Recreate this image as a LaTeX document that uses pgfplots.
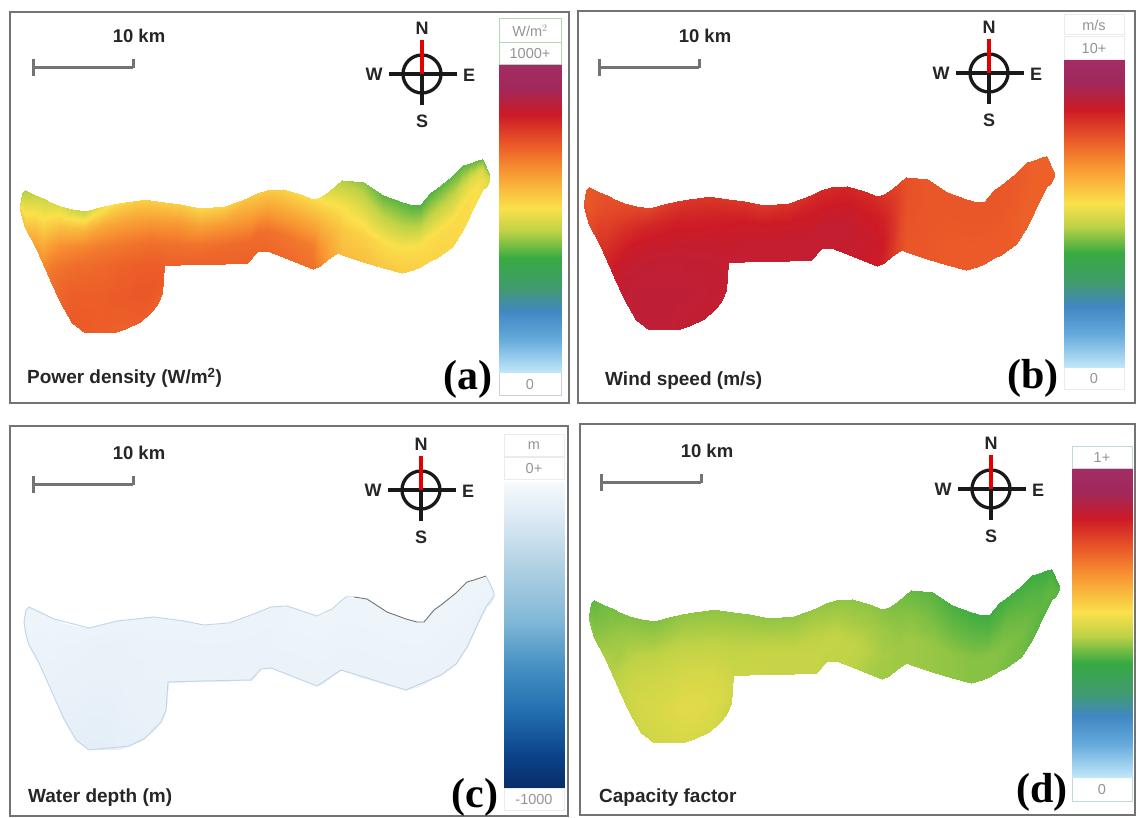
\documentclass[border=0pt]{standalone}
\usepackage{fontspec}
\setmainfont{Liberation Sans}
\newfontfamily\serifbf{Liberation Serif}
\usepackage{pgfplots}
\usepackage{pgfplotstable}
\pgfplotsset{compat=1.18}
\pgfplotsset{
 colormap={rb}{rgb255(0pt)=(195,232,250) rgb255(110pt)=(100,170,220) rgb255(200pt)=(65,135,195) rgb255(276pt)=(65,155,110) rgb255(373pt)=(55,170,65) rgb255(460pt)=(190,210,70) rgb255(535pt)=(250,225,75) rgb255(654pt)=(248,150,50) rgb255(740pt)=(235,90,40) rgb255(838pt)=(205,27,38) rgb255(925pt)=(160,40,90) rgb255(1000pt)=(163,44,100)},
 colormap={bl}{rgb255(0pt)=(8,45,105) rgb255(100pt)=(10,65,135) rgb255(250pt)=(35,110,175) rgb255(400pt)=(70,145,195) rgb255(550pt)=(130,185,215) rgb255(700pt)=(170,205,225) rgb255(900pt)=(225,236,246) rgb255(1000pt)=(246,250,253)},
 panel/.style={scale only axis,anchor=south west,y dir=reverse,clip=false,
   axis line style={draw=black!55,line width=1.8pt},ticks=none,
   point meta min=0,point meta max=1000},
 field/.style={surf,shader=interp,mesh/cols=6,mesh/rows=44,draw=none},
 cbar/.style={surf,shader=interp,mesh/cols=2,mesh/rows=2,point meta=explicit,draw=none},
}
\pgfplotstableread{
x y a b c d
20 205 450 745 955 400
20 207 500 745 955 410
20 208 540 750 955 420
20 210 580 760 950 430
20 210 580 760 950 430
20 210 580 760 950 430
22 193 450 745 955 400
22 201 500 745 955 410
22 210 540 750 955 420
22 218 580 760 950 430
22 218 580 760 950 430
22 218 580 760 950 430
25 190 450 745 955 400
25 203 500 745 955 410
25 215 540 750 955 420
25 228 590 760 950 430
25 228 590 760 950 430
25 228 590 760 950 430
35 195 470 750 955 410
35 212 530 760 955 420
35 229 590 780 950 435
35 246 640 795 950 450
35 246 640 795 950 450
35 246 640 795 950 450
43 198 480 755 955 415
43 220 540 770 955 430
43 242 610 795 950 445
43 264 670 825 945 455
43 264 670 825 945 455
43 264 670 825 945 455
50 202 490 755 955 415
50 223 560 780 955 435
50 244 635 810 950 445
50 265 690 835 945 460
50 272 700 840 940 465
50 280 700 840 940 465
60 206 500 760 955 420
60 226 585 795 950 440
60 245 660 825 945 455
60 265 700 850 940 470
60 283 720 860 935 478
60 302 725 860 930 475
72 209 480 765 955 420
72 228 590 810 950 440
72 246 670 840 945 460
72 265 710 855 940 475
72 294 735 865 930 488
72 323 740 865 925 480
85 211 470 770 955 420
85 229 600 820 945 440
85 247 680 845 940 462
85 265 715 860 935 478
85 299 735 865 925 492
85 333 740 865 915 482
100 207 510 780 955 425
100 226 620 825 945 445
100 246 690 850 940 468
100 265 720 862 935 482
100 299 735 865 925 498
100 333 735 865 915 485
113 204 540 790 955 430
113 224 630 830 945 450
113 245 695 850 940 472
113 265 725 862 935 488
113 299 740 865 930 505
113 333 730 860 925 490
125 202 555 795 955 430
125 223 640 830 945 450
125 244 700 850 945 472
125 265 730 860 940 490
125 297 740 865 935 505
125 329 730 860 925 490
140 200 565 795 955 430
140 222 645 830 950 450
140 243 705 850 945 472
140 265 735 860 945 490
140 294 745 862 940 500
140 322 735 860 930 490
150 200 565 795 955 430
150 222 650 832 950 450
150 243 710 850 950 470
150 265 735 858 945 485
150 289 745 860 945 495
150 313 735 855 935 485
157 201 565 795 955 430
157 222 650 832 950 450
157 244 710 850 950 470
157 265 735 858 945 482
157 285 740 860 945 488
157 305 730 855 945 478
162 202 565 795 955 430
162 223 650 835 950 450
162 244 710 850 950 468
162 265 735 855 945 480
162 279 740 855 945 484
162 293 730 855 945 475
164 202 565 795 955 430
164 223 650 835 950 450
164 244 710 850 950 468
164 265 730 855 945 475
164 265 730 855 945 475
164 265 730 855 945 475
180 204 565 795 955 430
180 224 650 838 950 450
180 245 710 855 950 470
180 265 730 855 945 475
180 265 730 855 945 475
180 265 730 855 945 475
200 208 550 790 955 430
200 227 640 838 950 452
200 245 705 855 950 472
200 264 730 855 950 472
200 264 730 855 950 472
200 264 730 855 950 472
225 206 560 800 955 430
225 225 650 838 950 450
225 245 715 855 950 470
225 264 730 855 950 470
225 264 730 855 950 470
225 264 730 855 950 470
247 198 580 810 955 435
247 220 650 840 950 455
247 241 715 858 950 470
247 263 730 858 950 470
247 263 730 858 950 470
247 263 730 858 950 470
257 193 570 815 955 430
257 213 640 840 950 450
257 232 710 858 950 470
257 252 725 855 950 465
257 252 725 855 950 465
257 252 725 855 950 465
267 190 570 815 955 430
267 210 640 840 950 450
267 231 710 858 950 470
267 251 725 855 950 465
267 251 725 855 950 465
267 251 725 855 950 465
283 189 560 820 955 430
283 212 630 845 955 445
283 234 700 858 950 465
283 257 720 850 950 460
283 257 720 850 950 460
283 257 720 850 950 460
300 194 550 815 955 430
300 217 625 840 955 445
300 241 695 850 950 455
300 264 715 845 950 445
300 264 715 845 950 445
300 264 715 845 950 445
313 199 545 810 955 425
313 222 620 835 955 440
313 246 690 845 950 445
313 269 710 840 950 440
313 269 710 840 950 440
313 269 710 840 950 440
320 197 530 795 955 420
320 220 600 825 955 435
320 243 650 835 950 445
320 266 680 825 950 440
320 266 680 825 950 440
320 266 680 825 950 440
328 192 500 780 955 415
328 214 570 800 955 430
328 237 620 805 950 440
328 259 640 795 950 440
328 259 640 795 950 440
328 259 640 795 950 440
337 184 470 765 955 410
337 207 540 770 955 425
337 230 590 765 950 440
337 253 610 760 950 440
337 253 610 760 950 440
337 253 610 760 950 440
342 180 450 755 955 405
342 205 530 755 955 425
342 230 575 750 950 440
342 255 595 745 950 440
342 255 595 745 950 440
342 255 595 745 950 440
363 182 430 745 955 395
363 209 500 745 955 415
363 235 560 745 950 435
363 262 590 745 950 435
363 262 590 745 950 435
363 262 590 745 950 435
383 195 400 745 955 385
383 219 470 745 955 405
383 244 545 740 950 430
383 268 575 740 950 430
383 268 575 740 950 430
383 268 575 740 950 430
402 202 395 745 955 380
402 226 460 745 955 400
402 249 540 740 950 425
402 273 570 740 950 425
402 273 570 740 950 425
402 273 570 740 950 425
413 205 390 745 955 378
413 227 460 745 955 400
413 248 540 740 950 425
413 270 565 740 950 425
413 270 565 740 950 425
413 270 565 740 950 425
420 205 390 745 955 378
420 226 460 745 955 400
420 246 540 740 950 425
420 267 560 740 950 425
420 267 560 740 950 425
420 267 560 740 950 425
430 193 390 745 955 378
430 216 465 745 955 400
430 238 540 740 950 422
430 261 555 740 950 420
430 261 555 740 950 420
430 261 555 740 950 420
437 188 395 745 955 380
437 211 470 745 955 405
437 235 545 740 950 420
437 258 555 740 950 415
437 258 555 740 950 415
437 258 555 740 950 415
452 176 400 740 955 380
452 200 480 740 955 400
452 223 545 735 950 415
452 247 550 735 950 410
452 247 550 735 950 410
452 247 550 735 950 410
463 165 400 735 955 378
463 187 490 735 955 395
463 208 545 730 950 405
463 230 545 730 950 400
463 230 545 730 950 400
463 230 545 730 950 400
470 163 405 730 955 376
470 180 500 730 955 390
470 198 545 730 950 400
470 215 540 730 950 395
470 215 540 730 950 395
470 215 540 730 950 395
478 160 405 730 955 376
478 173 500 730 955 390
478 185 530 730 950 400
478 198 530 730 950 395
478 198 530 730 950 395
478 198 530 730 950 395
482 159 405 730 955 376
482 169 490 730 955 390
482 180 520 730 950 400
482 190 520 730 950 395
482 190 520 730 950 395
482 190 520 730 950 395
486 167 420 730 955 378
486 174 480 730 955 390
486 180 510 730 950 398
486 187 510 730 950 395
486 187 510 730 950 395
486 187 510 730 950 395
490 176 440 730 955 380
490 177 470 730 955 390
490 178 490 730 950 395
490 179 500 730 950 395
490 179 500 730 950 395
490 179 500 730 950 395
}\shape
\newcommand\compass[2]{%
 \begin{scope}[shift={(axis cs:#1,#2)},x=1pt,y=-1pt]
  \draw[line width=3.3pt,black!90] (0,0) circle[radius=19];
  \draw[line width=3.3pt,black!90] (-33,0)--(35,0) (0,0)--(0,31);
  \draw[line width=3.3pt,red!90!black] (0,-34)--(0,0);
  \node[font=\fontsize{18}{18}\selectfont\bfseries,text=black!85] at (0,-46) {N};
  \node[font=\fontsize{18}{18}\selectfont\bfseries,text=black!85] at (0,47) {S};
  \node[font=\fontsize{18}{18}\selectfont\bfseries,text=black!85] at (-48,0) {W};
  \node[font=\fontsize{18}{18}\selectfont\bfseries,text=black!85] at (47,1) {E};
 \end{scope}}
\newcommand\scalebar[2]{%
 \begin{scope}[shift={(axis cs:#1,#2)},x=1pt,y=-1pt]
  \draw[line width=3pt,black!55] (0,-8)--(0,9) (0,1)--(100,1) (100,1)--(100,-8);
  \node[font=\fontsize{18.5}{19}\selectfont\bfseries,text=black!85] at (106,-31) {10 km};
 \end{scope}}
\newcommand\cbox[6]{% x1,y1,x2,y2,border,text
 \draw[#5,line width=1pt,fill=white] (axis cs:#1,#2) rectangle (axis cs:#3,#4);
 \node[text=black!42,font=\fontsize{14.5}{15}\selectfont] at (axis cs:{(#1+#3)/2},{(#2+#4)/2}) {#6};}
\newcommand\plab[3]{\node[font=\serifbf\fontsize{42}{42}\selectfont\bfseries,inner sep=0pt] at (axis cs:#1,#2) {#3};}
\newcommand\tlab[3]{\node[anchor=west,inner sep=0pt,text=black!85,font=\fontsize{19}{20}\selectfont\bfseries] at (axis cs:#1,#2) {#3};}
\begin{document}
\begin{tikzpicture}[x=1pt,y=1pt]
\path[use as bounding box] (0,0) rectangle (1136,818);
% (a)
\begin{axis}[panel,colormap name=rb,at={(10pt,415pt)},width=559pt,height=391pt,xmin=10,xmax=569,ymin=12,ymax=403]
\addplot[field,point meta=\thisrow{a}] table[x=x,y=y] {\shape};
\cbox{499}{19}{561}{43}{green!50!black!30}{W/m$^{2}$}
\cbox{499}{43}{561}{65}{green!50!black!30}{1000+}
\cbox{499}{373}{561}{396}{blue!30!gray!30}{0}
\addplot[cbar] coordinates {(499,65) [1000] (561,65) [1000] (499,373) [0] (561,373) [0]};
\compass{422}{74}\scalebar{33}{67}
\tlab{27}{378}{Power density (W/m$^{\mathbf{2}}$)}
\plab{468}{379}{(a)}
\end{axis}
% (b)
\begin{axis}[panel,colormap name=rb,at={(578pt,415pt)},width=557pt,height=392pt,xmin=14,xmax=571,ymin=14,ymax=406]
\addplot[field,point meta=\thisrow{b}] table[x=x,y=y] {\shape};
\cbox{500}{18}{560}{38}{black!8}{m/s}
\cbox{500}{40}{560}{63}{black!8}{10+}
\cbox{500}{371}{560}{393}{black!8}{0}
\addplot[cbar] coordinates {(500,63) [1000] (560,63) [1000] (500,371) [0] (560,371) [0]};
\compass{425}{76}\scalebar{35}{70}
\tlab{41}{384}{Wind speed (m/s)}
\plab{469}{381}{(b)}
\end{axis}
% (c)
\begin{axis}[panel,colormap name=bl,at={(10pt,2pt)},width=558pt,height=390pt,xmin=6,xmax=564,ymin=9,ymax=399]
\addplot[field,point meta=\thisrow{c}] table[x=x,y=y] {\shape};
\addplot[draw={rgb,255:red,195;green,215;blue,235},line width=1pt] coordinates {(25,190)(22,193)(20,205)(22,218)(25,228)(35,246)(43,264)(60,302)(72,323)(85,333)(125,329)(140,322)(157,305)(162,293)(164,265)(200,264)(247,263)(257,252)(267,251)(313,269)(337,253)(402,273)(437,258)(452,247)(463,230)(470,215)(478,198)(482,190)(490,179)(490,176)(486,167)(482,159)};
\addplot[draw=black!55,line width=.9pt] coordinates {(482,159)(470,163)(463,165)(452,176)(437,188)(430,193)(420,205)(413,205)(402,202)(383,195)(363,182)(350,180)};
\addplot[draw={rgb,255:red,195;green,215;blue,235},line width=1pt] coordinates {(350,180)(342,180)(337,184)(328,192)(313,199)(283,189)(267,190)(247,198)(225,206)(200,208)(180,204)(150,200)(113,204)(85,211)(50,202)(25,190)};
\cbox{500}{18}{560}{40}{black!8}{m}
\cbox{500}{41}{560}{63}{black!8}{0+}
\cbox{500}{372}{560}{394}{black!8}{-1000}
\addplot[cbar] coordinates {(500,65) [1000] (560,65) [1000] (500,371) [0] (560,371) [0]};
\compass{417}{73}\scalebar{29}{67}
\tlab{24}{381}{Water depth (m)}
\plab{471}{380}{(c)}
\end{axis}
% (d)
\begin{axis}[panel,colormap name=rb,at={(580pt,3pt)},width=555pt,height=391pt,xmin=11,xmax=566,ymin=14,ymax=405]
\addplot[field,point meta=\thisrow{d}] table[x=x,y=y] {\shape};
\cbox{503}{37}{563}{59}{cyan!30!gray!40}{1+}
\cbox{503}{368}{563}{392}{cyan!30!gray!40}{0}
\addplot[cbar] coordinates {(503,59) [1000] (563,59) [1000] (503,368) [0] (563,368) [0]};
\compass{422}{79}\scalebar{32}{72}
\tlab{30}{388}{Capacity factor}
\plab{473}{382}{(d)}
\end{axis}
\end{tikzpicture}
\end{document}
